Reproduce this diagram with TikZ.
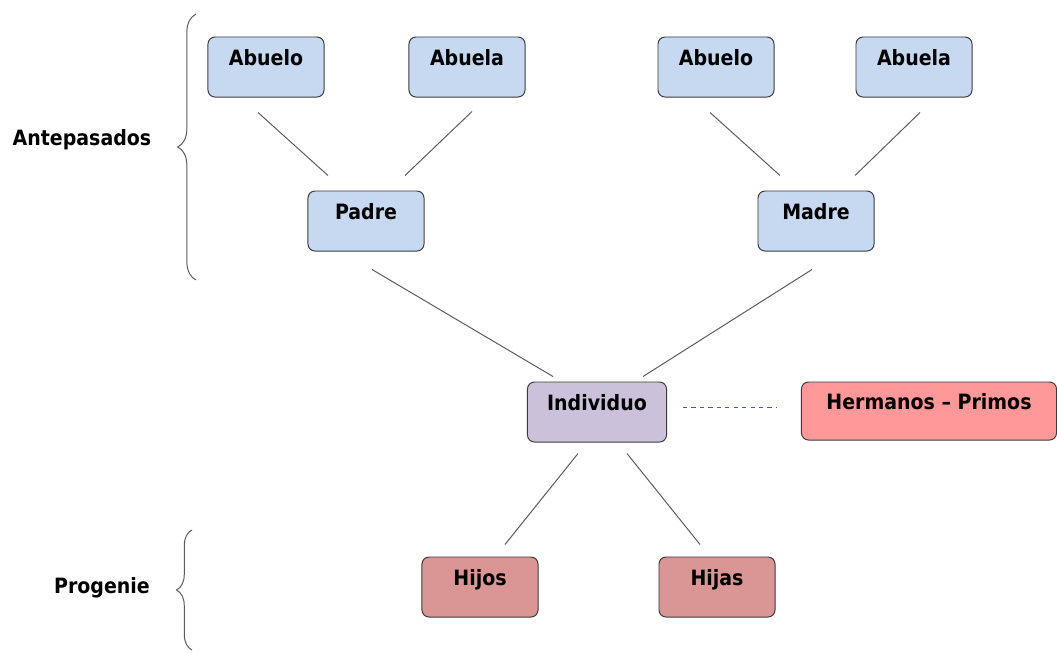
\documentclass[tikz,border=0pt]{standalone}
\usepackage{fontspec}
\setmainfont{DejaVu Sans Condensed}
\usetikzlibrary{calc}
\usetikzlibrary{decorations.pathreplacing}
\definecolor{azul}{HTML}{C6D9F1}
\definecolor{lila}{HTML}{CCC1DA}
\definecolor{rosa}{HTML}{FF9999}
\definecolor{rojo}{HTML}{D99694}
\definecolor{borde}{HTML}{3A3A3A}
\definecolor{linea}{HTML}{5A5A5A}
\definecolor{puntos}{HTML}{3F5F95}
\tikzset{
	caja/.style={draw=borde, line width=0.7pt, rounded corners=5pt, minimum width=2.9cm, minimum height=1.5cm,
		font=\fontsize{15}{17}\selectfont\bfseries, text height=11pt, text depth=13pt, inner sep=0pt},
	rama/.style={draw=linea, line width=0.7pt},
	llave/.style={draw=linea, line width=0.7pt, decorate},
	grupo/.style={font=\fontsize{15}{17}\selectfont\bfseries, inner sep=0pt},
}
\begin{document}
\begin{tikzpicture}[x=0.025cm, y=-0.025cm]
	\useasboundingbox (0,0) rectangle (1057,652);
	% abuelos
	\node[caja, fill=azul] at (266,67) (abueloP) {Abuelo};
	\node[caja, fill=azul] at (467,67) (abuelaP) {Abuela};
	\node[caja, fill=azul] at (716,67) (abueloM) {Abuelo};
	\node[caja, fill=azul] at (914,67) (abuelaM) {Abuela};
	% padres
	\node[caja, fill=azul] at (366,221) (padre) {Padre};
	\node[caja, fill=azul] at (816,221) (madre) {Madre};
	% individuo y familia
	\node[caja, fill=lila, minimum width=3.475cm] at (597,412) (indiv) {Individuo};
	\node[caja, fill=rosa, minimum width=6.375cm, minimum height=1.45cm] at (929,411) (herm) {Hermanos -- Primos};
	\node[caja, fill=rojo] at (480,587) (hijos) {Hijos};
	\node[caja, fill=rojo] at (717,587) (hijas) {Hijas};
	% ramas
	\draw[rama] ($(abueloP.south)+(-8,15)$) -- ($(padre.north)+(-38,-15)$);
	\draw[rama] ($(abuelaP.south)+(5,14)$) -- ($(padre.north)+(39,-15)$);
	\draw[rama] ($(abueloM.south)+(-6,15)$) -- ($(madre.north)+(-36,-15)$);
	\draw[rama] ($(abuelaM.south)+(6,15)$) -- ($(madre.north)+(39,-15)$);
	\draw[rama] ($(padre.south)+(6,18)$) -- ($(indiv.north)+(-44,-5)$);
	\draw[rama] ($(madre.south)+(-4,18)$) -- ($(indiv.north)+(46,-5)$);
	\draw[rama] ($(indiv.south)+(-19,11)$) -- ($(hijos.north)+(25,-12)$);
	\draw[rama] ($(indiv.south)+(30,11)$) -- ($(hijas.north)+(-17,-12)$);
	\draw[draw=puntos, line width=0.7pt, dashed] ($(indiv.east)+(16,-5)$) -- ($(herm.west)+(-24,-4)$);
	% grupos
	\node[grupo] at (82,140) (antep) {Antepasados};
	\node[grupo] at (102,588) (prog) {Progenie};
	\draw[llave, decoration={brace, amplitude=13pt}] (196,280) -- (196,14);
	\draw[llave, decoration={brace, amplitude=11pt}] (192,650) -- (192,530);
\end{tikzpicture}
\end{document}
